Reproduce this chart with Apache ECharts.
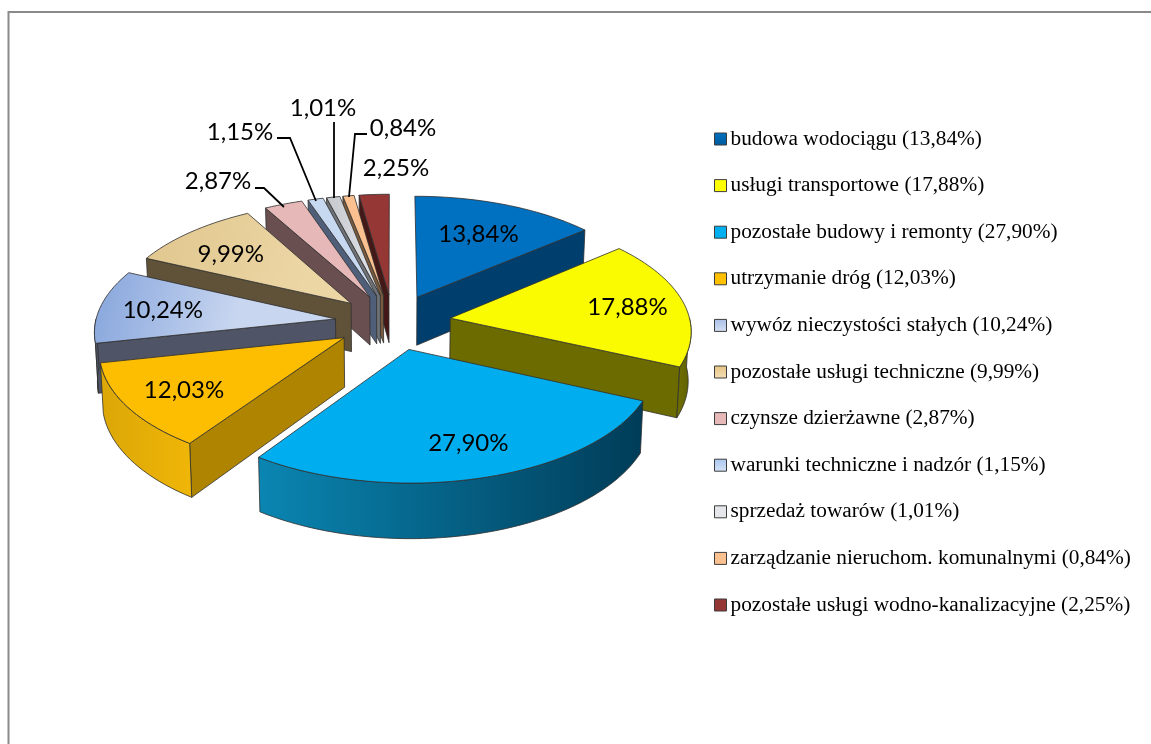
<!DOCTYPE html>
<html><head><meta charset="utf-8">
<style>html,body{margin:0;padding:0;background:#fff}#c{width:1151px;height:744px}</style>
<script src="https://cdn.jsdelivr.net/npm/echarts@6/dist/echarts.min.js"></script>
</head><body><div id="c"></div>
<script>
const categories = ['budowa wodociągu','usługi transportowe','pozostałe budowy i remonty','utrzymanie dróg','wywóz nieczystości stałych','pozostałe usługi techniczne','czynsze dzierżawne','warunki techniczne i nadzór','sprzedaż towarów','zarządzanie nieruchom. komunalnymi','pozostałe usługi wodno-kanalizacyjne'];
const shares = [13.84,17.88,27.90,12.03,10.24,9.99,2.87,1.15,1.01,0.84,2.25];

const G = (a,b,x2=1,y2=0)=>new echarts.graphic.LinearGradient(0,0,x2,y2,[{offset:0,color:a},{offset:1,color:b}]);
const topFill = ['#0070c0','#fafa00','#00aeef','#fdbd00',G('#86a5dc','#c8d6f0',0.6,0.5),G('#e0c68e','#ecd6a4',0.8,0.5),'#e6b9b8','#c6d9f1',G('#c4c8cc','#e4e6ea'),'#fac08f','#953735'];
const edgeFill = ['#003f6d','#6b6b00','#00577a','#ae8400','#4f5566','#5f5239','#6a4f50','#4f5f7a','#6f7276','#7a5a3c','#451818'];
const arcFill = ['#003f6d',G('#707000','#5e5e00'),G('#0a86b2','#003c58'),G('#dba707','#f0b607'),'#4f5566','#5f5239','#6a4f50','#4f5f7a','#6f7276','#7a5a3c','#451818'];
const legendFill = [G('#0070c0','#005a9c',0,1),'#ffff00','#00b0f0','#ffc000',G('#a9bfe6','#d5e0f4',0,1),G('#e6c483','#f3dfb5',0,1),'#e6b9b8',G('#a9c6ef','#d5e3f7',0,1),'#e4e6ea','#fac08f','#953735'];
const labelRadius = [161,182,180,180,176,171];
const labelTurn = [0,0,-1.5,0,0,-2];
const outerLabels = {6:{at:[218,181],line:[[255,188],[264,188],[284,207]]},
  7:{at:[240,132],line:[[277,138],[290,138],[316,201]]},
  8:{at:[323,108],line:[[334,122],[334,198]]},
  9:{at:[403,128],line:[[367,134],[355,134],[349,197]]},
  10:{at:[396,168],line:null}};

const CX=393, CY=322, R=240, K=0.48, P=0.0004, EXPLODE=58, H=49, LEAN=0.99;
const rad=d=>d*Math.PI/180;
const total=shares.reduce((a,b)=>a+b,0);
let acc=0;
const spans=shares.map(v=>{const s=acc/total*360; acc+=v; return [s,acc/total*360];});
const fmt=v=>v.toFixed(2).replace('.',',');
const names=categories.map((c,i)=>c+' ('+fmt(shares[i])+'%)');

function world(i,theta,r){
  const m=rad((spans[i][0]+spans[i][1])/2);
  return [EXPLODE*Math.sin(m)+r*Math.sin(rad(theta)), -EXPLODE*Math.cos(m)-r*Math.cos(rad(theta))];
}
function project(w,drop){
  const s=1/(1-P*w[1]);
  return [CX+w[0]*s*(drop?LEAN:1), CY+K*w[1]*s+(drop?H*s:0)];
}
function arc(i,a,b,drop){
  const out=[], n=Math.max(2,Math.ceil((b-a)/2));
  for(let j=0;j<=n;j++) out.push(project(world(i,a+(b-a)*j/n,R),drop));
  return out;
}
const depth=shares.map((_,i)=>world(i,0,0)[1]);
const order=depth.map((d,i)=>[d,i]).sort((a,b)=>a[0]-b[0]).map(x=>x[1]);

function renderSlice(i){
  return function(params,api){
    api.value(0);
    const [a,b]=spans[i], kids=[];
    const apex=project(world(i,0,0),false), apexD=project(world(i,0,0),true);
    const line={stroke:'#2e2e2e',lineWidth:0.8,lineJoin:'round'};
    const quad=(t)=>[apex,project(world(i,t,R),false),project(world(i,t,R),true),apexD];
    if(Math.sin(rad(a))<0) kids.push({type:'polygon',shape:{points:quad(a)},style:Object.assign({fill:edgeFill[i]},line)});
    if(Math.sin(rad(b))>0) kids.push({type:'polygon',shape:{points:quad(b)},style:Object.assign({fill:edgeFill[i]},line)});
    const fa=Math.max(a,90), fb=Math.min(b,270);
    if(fb>fa){
      kids.push({type:'polygon',shape:{points:arc(i,fa,fb,false).concat(arc(i,fa,fb,true).reverse())},style:Object.assign({fill:arcFill[i]},line)});
    }
    kids.push({type:'polygon',shape:{points:[apex].concat(arc(i,a,b,false))},style:Object.assign({fill:topFill[i]},line)});
    const txt=fmt(shares[i])+'%';
    const textStyle=(x,y)=>({type:'text',x,y,style:{text:txt,fill:'#000',font:'24px Lato',align:'center',verticalAlign:'middle'}});
    if(outerLabels[i]){
      const o=outerLabels[i];
      if(o.line) kids.push({type:'polyline',shape:{points:o.line},style:{stroke:'#000',lineWidth:1.8,fill:null}});
      kids.push(textStyle(o.at[0],o.at[1]));
    } else {
      const p=project(world(i,(a+b)/2+labelTurn[i],labelRadius[i]),false);
      kids.push(textStyle(p[0],p[1]+1));
    }
    return {type:'group',children:kids};
  };
}

const chart=echarts.init(document.getElementById('c'),null,{renderer:'canvas'});
chart.setOption({
  animation:false,
  backgroundColor:'#fff',
  tooltip:{show:false},
  legend:{
    orient:'vertical',left:709,top:122,selectedMode:false,icon:'rect',
    itemWidth:12,itemHeight:12,itemGap:22.6,
    textStyle:{fontFamily:'Liberation Serif',fontSize:21.3,color:'#000',lineHeight:24,padding:[0,0,0,-1]},
    data:names.map((n,i)=>({name:n,itemStyle:{color:legendFill[i],borderColor:'#3c3c3c',borderWidth:1}}))
  },
  graphic:[{type:'polyline',silent:true,shape:{points:[[8.5,744],[8.5,12],[1151,12]]},style:{stroke:'#8a8a8a',lineWidth:2,fill:null}}],
  series:shares.map((v,i)=>({
    type:'custom',name:names[i],coordinateSystem:'none',z:2+order.indexOf(i),
    data:[[v]],renderItem:renderSlice(i),silent:true,
    itemStyle:{color:legendFill[i]}
  }))
});
</script></body></html>
